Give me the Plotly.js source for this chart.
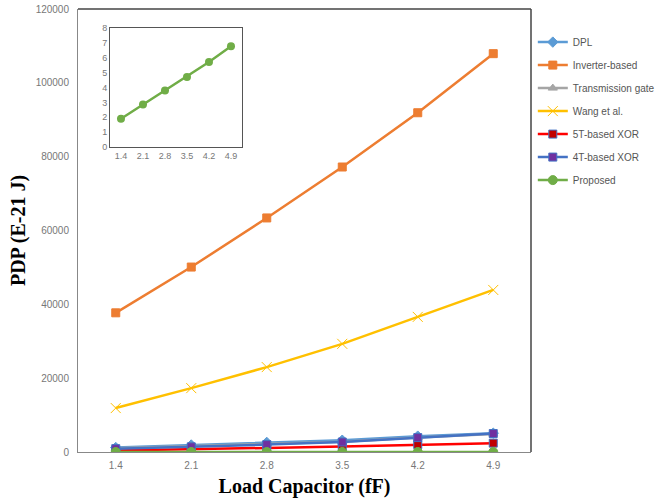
<!DOCTYPE html>
<html>
<head>
<meta charset="utf-8">
<script src="https://cdn.plot.ly/plotly-3.0.1.min.js"></script>
<style>html,body{margin:0;padding:0;background:#fff;}#chart{width:661px;height:502px;}</style>
</head>
<body>
<div id="chart"></div>
<script>
// Data
const loadCap = ['1.4', '2.1', '2.8', '3.5', '4.2', '4.9'];
const dpl = [1200, 1900, 2600, 3200, 4300, 5100];
const inverterBased = [37700, 50100, 63400, 77200, 91900, 107900];
const transmissionGate = [1000, 1600, 2200, 2800, 3900, 4900];
const wangEtAl = [11900, 17300, 23000, 29300, 36600, 43900];
const fiveTXor = [400, 700, 1100, 1500, 2000, 2400];
const fourTXor = [900, 1400, 2000, 2700, 3900, 5000];
const proposed = [1.9, 2.85, 3.8, 4.7, 5.7, 6.75];
const yTicks = [0, 20000, 40000, 60000, 80000, 100000, 120000];
const insetTicks = [0, 1, 2, 3, 4, 5, 6, 7, 8];

function series(name, y, lineColor, symbol, mColor, mLine, size) {
  return {
    x: loadCap, y: y, name: name, type: 'scatter', mode: 'lines+markers',
    legendgroup: name,
    line: {color: lineColor, width: 2.5},
    marker: {symbol: symbol, color: mColor, size: size || 8, line: {color: mLine || mColor, width: 1}}
  };
}

const traces = [
  series('DPL', dpl, '#5B9BD5', 'diamond', '#5B9BD5'),
  series('Inverter-based', inverterBased, '#ED7D31', 'square', '#ED7D31'),
  series('Transmission gate', transmissionGate, '#A5A5A5', 'triangle-up', '#A5A5A5'),
  series('Wang et al.', wangEtAl, '#FFC000', 'x-thin', '#FFC000', '#FFC000', 10),
  series('5T-based XOR', fiveTXor, '#FF0000', 'square', '#C00000', '#4472C4'),
  series('4T-based XOR', fourTXor, '#4472C4', 'square', '#7030A0', '#4472C4'),
  series('Proposed', proposed, '#70AD47', 'circle', '#70AD47', '#70AD47', 9)
];
const inset = {
  x: loadCap, y: proposed, type: 'scatter', mode: 'lines+markers', showlegend: false,
  xaxis: 'x2', yaxis: 'y2',
  line: {color: '#70AD47', width: 2.5},
  marker: {symbol: 'circle', color: '#70AD47', size: 8}
};
traces.push(inset);

const tickFont = {family: 'Liberation Sans, Arial, sans-serif', size: 10, color: '#777'};
const layout = {
  width: 661, height: 502,
  margin: {l: 78, r: 130, t: 9, b: 50, autoexpand: false},
  paper_bgcolor: '#fff', plot_bgcolor: '#fff',
  showlegend: true,
  legend: {
    x: 1.004, y: 0.958, xanchor: 'left', yanchor: 'top',
    font: {family: 'Liberation Sans, Arial, sans-serif', size: 10, color: '#555'},
    traceorder: 'grouped', tracegroupgap: 4, itemwidth: 30
  },
  xaxis: {
    type: 'category', range: [-0.5, 5.5], showgrid: false, zeroline: false,
    showline: true, linecolor: '#888', linewidth: 1, ticks: '',
    tickfont: tickFont, ticklabelstandoff: 4,
    title: {text: 'Load Capacitor (fF)', font: {family: 'Liberation Serif, Times New Roman, serif', size: 20, color: '#000', weight: 'bold'}, standoff: 8}
  },
  yaxis: {
    range: [0, 120000], tickvals: yTicks, ticktext: yTicks.map(String),
    showgrid: false, zeroline: false, showline: true, linecolor: '#888', linewidth: 1, ticks: '',
    tickfont: tickFont, ticklabelstandoff: 6,
    title: {text: 'PDP (E-21 J)', font: {family: 'Liberation Serif, Times New Roman, serif', size: 20, color: '#000', weight: 'bold'}, standoff: 4}
  },
  xaxis2: {
    type: 'category', range: [-0.5, 5.5], domain: [0.0706, 0.362], anchor: 'y2',
    showgrid: false, zeroline: false, showline: true, linecolor: '#555', mirror: true, ticks: '',
    tickfont: {family: 'Liberation Sans, Arial, sans-serif', size: 9, color: '#777'}
  },
  yaxis2: {
    range: [0, 8], tickvals: insetTicks, domain: [0.688, 0.958], anchor: 'x2',
    showgrid: false, zeroline: false, showline: true, linecolor: '#555', mirror: true, ticks: '',
    tickfont: {family: 'Liberation Sans, Arial, sans-serif', size: 9, color: '#777'}
  },
  shapes: [
    {type: 'line', xref: 'paper', yref: 'paper', x0: 0, x1: 1, y0: 1, y1: 1, line: {color: '#444', width: 1.5}},
    {type: 'line', xref: 'paper', yref: 'paper', x0: 1, x1: 1, y0: 0, y1: 1, line: {color: '#444', width: 1.5}}
  ]
};
Plotly.newPlot('chart', traces, layout, {displayModeBar: false, staticPlot: true});
</script>
</body>
</html>
